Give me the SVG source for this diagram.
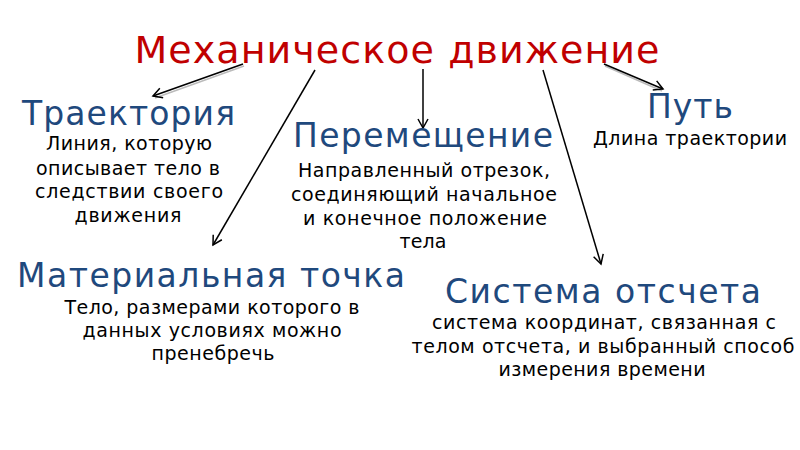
<svg xmlns="http://www.w3.org/2000/svg" width="800" height="450" viewBox="0 0 800 450">
<defs>
<style>
text{font-family:"DejaVu Sans","Liberation Sans",sans-serif;text-anchor:middle}
.main{font-size:38px;fill:#C00000}
.head{font-size:33px;fill:#1F497D}
.body{font-size:19px;fill:#000}
.conn{stroke:#000;stroke-width:1.5;fill:none}
.shadow{stroke:#bbb;stroke-width:1.5;fill:none}
</style>
<marker id="ah" markerWidth="12" markerHeight="12" refX="10" refY="6" orient="auto" markerUnits="userSpaceOnUse">
<path d="M1,1 L10,6 L1,11" fill="none" stroke="#000" stroke-width="1.5"/>
</marker>
</defs>
<rect width="800" height="450" fill="#fff"/>
<g id="title"><text class="main" x="397" y="63" textLength="525" lengthAdjust="spacing">Механическое движение</text></g>
<g id="connectors">
<line class="shadow" x1="244" y1="66" x2="155" y2="98"/>
<line class="shadow" x1="605" y1="66" x2="662" y2="91"/>
<line class="conn" x1="243" y1="64" x2="153" y2="96" marker-end="url(#ah)"/>
<line class="conn" x1="315" y1="70" x2="213" y2="245" marker-end="url(#ah)"/>
<line class="conn" x1="423" y1="69" x2="423" y2="128" marker-end="url(#ah)"/>
<line class="conn" x1="543" y1="70" x2="601" y2="264" marker-end="url(#ah)"/>
<line class="conn" x1="604" y1="64" x2="663" y2="89" marker-end="url(#ah)"/>
</g>
<g id="trajectory">
<text class="head" x="128.5" y="125" textLength="213" lengthAdjust="spacing">Траектория</text>
<text class="body" x="129" y="150" textLength="166" lengthAdjust="spacing">Линия, которую</text>
<text class="body" x="128" y="175" textLength="184" lengthAdjust="spacing">описывает тело в</text>
<text class="body" x="129" y="198" textLength="188" lengthAdjust="spacing">следствии своего</text>
<text class="body" x="128" y="222" textLength="107" lengthAdjust="spacing">движения</text>
</g>
<g id="displacement">
<text class="head" x="423" y="147" font-size="30" textLength="260" lengthAdjust="spacing">Перемещение</text>
<text class="body" x="424" y="177" textLength="252" lengthAdjust="spacing">Направленный отрезок,</text>
<text class="body" x="424" y="201" textLength="266" lengthAdjust="spacing">соединяющий начальное</text>
<text class="body" x="425" y="225" textLength="244" lengthAdjust="spacing">и конечное положение</text>
<text class="body" x="423" y="248" textLength="47" lengthAdjust="spacing">тела</text>
</g>
<g id="path">
<text class="head" x="690" y="118" font-size="35" textLength="86" lengthAdjust="spacing">Путь</text>
<text class="body" x="690" y="145" textLength="194" lengthAdjust="spacing">Длина траектории</text>
</g>
<g id="material-point">
<text class="head" x="211" y="287" font-size="35" textLength="388" lengthAdjust="spacing">Материальная точка</text>
<text class="body" x="212" y="314" textLength="295" lengthAdjust="spacing">Тело, размерами которого в</text>
<text class="body" x="212" y="337" textLength="259" lengthAdjust="spacing">данных условиях можно</text>
<text class="body" x="213" y="360" textLength="123" lengthAdjust="spacing">пренебречь</text>
</g>
<g id="reference-frame">
<text class="head" x="603" y="303" textLength="316" lengthAdjust="spacing">Система отсчета</text>
<text class="body" x="604" y="329" textLength="344" lengthAdjust="spacing">система координат, связанная с</text>
<text class="body" x="603" y="353" textLength="383" lengthAdjust="spacing">телом отсчета, и выбранный способ</text>
<text class="body" x="602" y="376" textLength="207" lengthAdjust="spacing">измерения времени</text>
</g>
</svg>
